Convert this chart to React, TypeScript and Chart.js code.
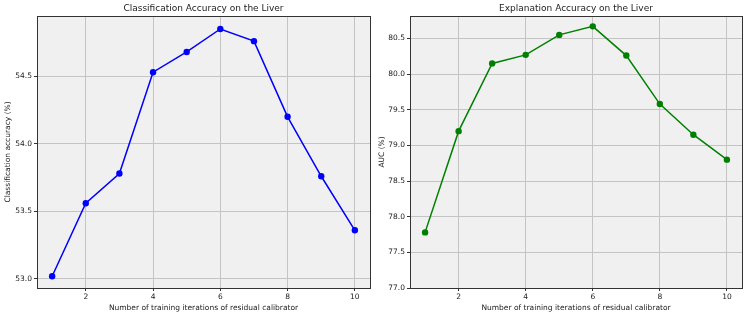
import React, { useEffect, useRef } from "react";
import { Chart, registerables } from "chart.js";

Chart.register(...registerables);

const iterations = [1, 2, 3, 4, 5, 6, 7, 8, 9, 10];
const classificationAccuracy = [53.02, 53.56, 53.78, 54.53, 54.68, 54.85, 54.76, 54.2, 53.76, 53.36];
const explanationAuc = [77.78, 79.2, 80.15, 80.27, 80.55, 80.67, 80.26, 79.58, 79.15, 78.8];
const xTicks = [2, 4, 6, 8, 10];

const FONT = "'DejaVu Sans', sans-serif";

const frame = {
  id: "frame",
  beforeDraw(chart: any) {
    const { ctx, chartArea: a } = chart;
    ctx.save();
    ctx.fillStyle = "#f0f0f0";
    ctx.fillRect(a.left, a.top, a.right - a.left, a.bottom - a.top);
    ctx.restore();
  },
  afterDatasetsDraw(chart: any) {
    const { ctx, chartArea: a } = chart;
    ctx.save();
    ctx.strokeStyle = "#333333";
    ctx.lineWidth = 1;
    ctx.strokeRect(Math.round(a.left) + 0.5, Math.round(a.top) + 0.5, Math.round(a.right - a.left), Math.round(a.bottom - a.top));
    const t = chart.options.plugins.frame?.text;
    if (t) {
      ctx.fillStyle = "#222";
      ctx.font = "9px " + FONT;
      ctx.textAlign = "center";
      ctx.textBaseline = "middle";
      ctx.fillText(t, (a.left + a.right) / 2, 9);
    }
    ctx.restore();
  },
};

type P = {
  title: string;
  yTitle: string;
  data: number[];
  color: string;
  yMin: number;
  yMax: number;
  yStep: number;
  yWidth: number;
  padRight: number;
  left: number;
};

function Panel(p: P) {
  const ref = useRef<HTMLCanvasElement>(null);
  useEffect(() => {
    const chart = new Chart(ref.current!, {
      type: "line",
      data: {
        datasets: [
          {
            data: iterations.map((x, i) => ({ x, y: p.data[i] })),
            borderColor: p.color,
            backgroundColor: p.color,
            borderWidth: 1.5,
            pointRadius: 3.2,
            pointBorderWidth: 0,
            pointBackgroundColor: p.color,
          },
        ],
      },
      options: {
        responsive: false,
        animation: false,
        layout: { padding: { top: 16, right: p.padRight, left: 0, bottom: 0 } },
        plugins: {
          legend: { display: false },
          tooltip: { enabled: false },
          title: { display: false },
          frame: { text: p.title },
        },
        scales: {
          x: {
            type: "linear",
            min: 0.55,
            max: 10.45,
            afterBuildTicks: (s: any) => {
              s.ticks = xTicks.map((v) => ({ value: v }));
            },
            afterFit: (s: any) => {
              s.height = 29;
            },
            ticks: {
              color: "#222",
              font: { family: FONT, size: 7.5 },
              padding: 2,
              maxRotation: 0,
              autoSkip: false,
            },
            grid: { color: "#c4c4c4", lineWidth: 1, tickLength: 3, tickColor: "#333" },
            border: { display: false },
            title: {
              display: true,
              text: "Number of training iterations of residual calibrator",
              color: "#222",
              font: { family: FONT, size: 7.5 },
              padding: { top: 1, bottom: 4 },
            },
          },
          y: {
            type: "linear",
            min: p.yMin,
            max: p.yMax,
            afterBuildTicks: (s: any) => {
              const t: any[] = [];
              const start = Math.ceil(p.yMin / p.yStep - 1e-9) * p.yStep;
              for (let v = start; v <= p.yMax + 1e-9; v += p.yStep) t.push({ value: Math.round(v * 100) / 100 });
              s.ticks = t;
            },
            afterFit: (s: any) => {
              s.width = p.yWidth;
            },
            ticks: {
              color: "#222",
              font: { family: FONT, size: 7.5 },
              padding: 2,
              callback: (v: any) => Number(v).toFixed(1),
            },
            grid: { color: "#c4c4c4", lineWidth: 1, tickLength: 3, tickColor: "#333" },
            border: { display: false },
            title: {
              display: true,
              text: p.yTitle,
              color: "#222",
              font: { family: FONT, size: 7.5 },
              padding: { top: 4, bottom: 0 },
            },
          },
        },
      },
      plugins: [frame],
    } as any);
    return () => chart.destroy();
  }, []);
  return (
    <canvas
      ref={ref}
      width={374}
      height={317}
      style={{ position: "absolute", left: p.left, top: 0, width: 374, height: 317 }}
    />
  );
}

export default function App() {
  return (
    <div style={{ position: "fixed", left: 0, top: 0, width: 748, height: 317, background: "#fff" }}>
      <Panel
        title="Classification Accuracy on the Liver"
        yTitle="Classification accuracy (%)"
        data={classificationAccuracy}
        color="#0000ff"
        yMin={52.933}
        yMax={54.946}
        yStep={0.5}
        yWidth={37}
        padRight={4}
        left={0}
      />
      <Panel
        title="Explanation Accuracy on the Liver"
        yTitle="AUC (%)"
        data={explanationAuc}
        color="#008000"
        yMin={77.0}
        yMax={80.815}
        yStep={0.5}
        yWidth={36}
        padRight={6}
        left={374}
      />
    </div>
  );
}
